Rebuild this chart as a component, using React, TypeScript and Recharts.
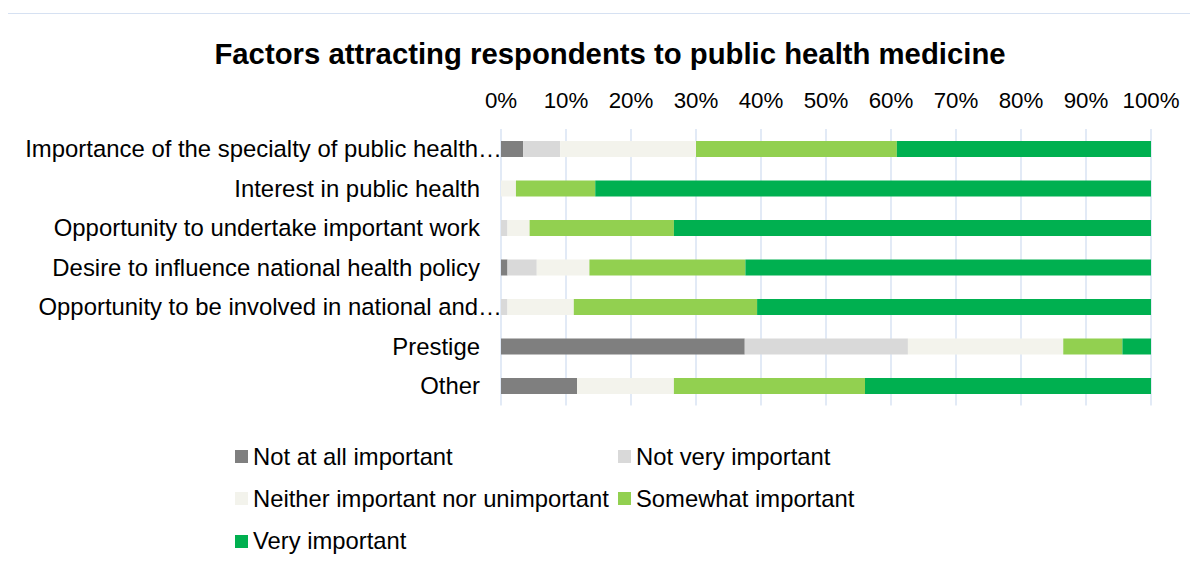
import React from 'react';
import { BarChart, Bar, XAxis, YAxis, CartesianGrid } from 'recharts';

const categories = [
  'Importance of the specialty of public health…',
  'Interest in public health',
  'Opportunity to undertake important work',
  'Desire to influence national health policy',
  'Opportunity to be involved in national and…',
  'Prestige',
  'Other',
];

const notAtAll = [3.4, 0, 0, 1.0, 0, 37.5, 11.7];
const notVery = [5.7, 0, 1.0, 4.5, 1.0, 25.1, 0];
const neither = [20.9, 2.3, 3.4, 8.1, 10.2, 23.9, 14.9];
const somewhat = [30.9, 12.2, 22.2, 24.0, 28.2, 9.1, 29.4];
const very = [39.1, 85.5, 73.4, 62.4, 60.6, 4.4, 44.0];

const xTicks = [0, 10, 20, 30, 40, 50, 60, 70, 80, 90, 100];

const seriesNames = [
  'Not at all important',
  'Not very important',
  'Neither important nor unimportant',
  'Somewhat important',
  'Very important',
];
const seriesKeys = ['notAtAll', 'notVery', 'neither', 'somewhat', 'very'];
const seriesColors = ['#7f7f7f', '#d9d9d9', '#f3f3ec', '#92d050', '#00b050'];

const data = categories.map((name, i) => ({
  name,
  notAtAll: notAtAll[i],
  notVery: notVery[i],
  neither: neither[i],
  somewhat: somewhat[i],
  very: very[i],
}));

const YTick = (props: any) => {
  const { x, y, payload } = props;
  const label = String(payload.value);
  const truncated = label.endsWith('…');
  return (
    <text
      x={x}
      y={y}
      dx={truncated ? 1 : -21}
      dy="0.355em"
      textAnchor="end"
      fontSize={23.9}
      fill="#000"
    >
      {label}
    </text>
  );
};

const legendRows = [
  [0, 1],
  [2, 3],
  [4],
];
const legendTops = [430.75, 472.75, 515.25];
const legendCols = [227, 610];

export default function App() {
  return (
    <div
      style={{
        position: 'relative',
        top: 5,
        left: -1,
        width: 1189,
        height: 550,
        borderTop: '1px solid #d6e1f2',
        borderLeft: '1px solid #d6e1f2',
        background: '#fff',
        fontFamily: '"Liberation Sans", Arial, sans-serif',
      }}
    >
      <div
        style={{
          position: 'absolute',
          left: 602,
          top: 24.8,
          transform: 'translateX(-50%)',
          whiteSpace: 'nowrap',
          fontSize: 29.3,
          lineHeight: 1,
          fontWeight: 'bold',
          color: '#000',
        }}
      >
        Factors attracting respondents to public health medicine
      </div>
      <BarChart
        width={1189}
        height={550}
        data={data}
        layout="vertical"
        margin={{ top: 85, right: 46, bottom: 158.5, left: 0 }}
      >
        <CartesianGrid horizontal={false} stroke="#d9e3f3" strokeWidth={1.5} />
        <XAxis
          type="number"
          orientation="top"
          domain={[0, 100]}
          ticks={xTicks}
          interval={0}
          height={30}
          tickFormatter={(v: number) => `${v}%`}
          axisLine={false}
          tickLine={false}
          tickSize={0}
          tickMargin={21}
          tick={{ fontSize: 22.3, fill: '#000' }}
        />
        <YAxis
          type="category"
          dataKey="name"
          width={493}
          axisLine={false}
          tickLine={false}
          tickSize={0}
          tickMargin={0}
          interval={0}
          tick={<YTick />}
        />
        {seriesKeys.map((k, i) => (
          <Bar
            key={k}
            dataKey={k}
            name={seriesNames[i]}
            stackId="a"
            fill={seriesColors[i]}
            barSize={16}
            isAnimationActive={false}
          />
        ))}
      </BarChart>
      {legendRows.map((row, ri) =>
        row.map((si, ci) => (
          <div
            key={si}
            style={{
              position: 'absolute',
              left: legendCols[ci],
              top: legendTops[ri],
              display: 'flex',
              alignItems: 'center',
              whiteSpace: 'nowrap',
              fontSize: 23.8,
              lineHeight: 1,
              height: 23.8,
              color: '#000',
            }}
          >
            <span
              style={{
                display: 'inline-block',
                width: 13,
                height: 13,
                background: seriesColors[si],
                marginRight: 5,
              }}
            />
            <span>{seriesNames[si]}</span>
          </div>
        ))
      )}
    </div>
  );
}
